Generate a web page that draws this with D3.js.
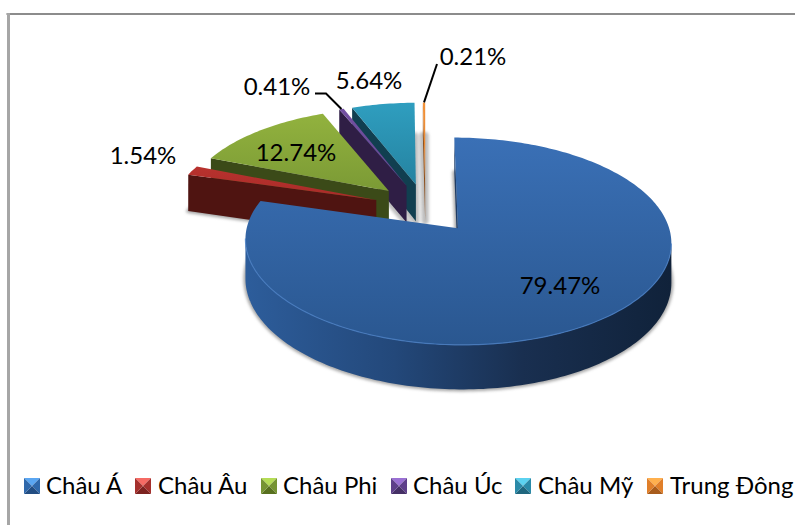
<!DOCTYPE html>
<html><head><meta charset="utf-8">
<script src="https://cdnjs.cloudflare.com/ajax/libs/d3/7.8.5/d3.min.js"></script>
<style>html,body{margin:0;padding:0;background:#fff}svg{display:block}text{font-family:Lato,"Open Sans",sans-serif;fill:#000}</style>
</head><body><svg id="c" width="795" height="525"></svg>
<script>
const categories = ["Châu Á","Châu Âu","Châu Phi","Châu Úc","Châu Mỹ","Trung Đông"];
const values = [79.47,1.54,12.74,0.41,5.64,0.21];
const valueLabels = ["79.47%","1.54%","12.74%","0.41%","5.64%","0.21%"];
const topLight = ["#3a70b6","#b8322e","#92b23e","#7350a2","#2f9ebf","#f39238"];
const topDark  = ["#2a5790","#a82b28","#7b9a35","#654690","#2583a1","#e07f2a"];
const wallCol  = ["#2c5b98","#4f1411","#3b4a18","#2f1e45","#113f50","#8a4c18"];
const swatchTop = ["#5aa6f2","#f56a64","#b5dc56","#9a70d4","#5cd2f0","#ffb04e"];
const swatchMid = ["#2f68ab","#a5302d","#769432","#5e3f8a","#2a8aa8","#e07f2a"];
const swatchBot = ["#224d82","#7c2220","#58701f","#453066","#1f667e","#a85c1c"];
const labelX = [560,143,296,277,369,473];
const labelY = [294,164,161,95,89,65];
const legendSwatchX = [24,135,261,391,515,647];
const legendTextX = [46,158,283,413,538,670];

const X0=425.5,Y0=208,R=206,K=97,P=0.122,E=0.255,D=38;
const svg=d3.select("#c"),defs=svg.append("defs");
const f=defs.append("filter").attr("id","blur").attr("x","-20%").attr("y","-20%").attr("width","140%").attr("height","140%");
f.append("feGaussianBlur").attr("stdDeviation",1.6);

const arcs=d3.pie().sort(null).value(d=>d)(values);
function proj(u,v,z){const s=1/(1-P*v);return [X0+R*u*s,Y0+K*v*s+z*s];}
function outline(a,z){
  const mid=(a.startAngle+a.endAngle)/2, su=E*Math.sin(mid), sv=-E*Math.cos(mid);
  const n=Math.max(2,Math.ceil((a.endAngle-a.startAngle)/0.02));
  const pts=[[su,sv]];
  d3.range(n+1).forEach(i=>{const t=a.startAngle+(a.endAngle-a.startAngle)*i/n;pts.push([su+Math.sin(t),sv-Math.cos(t)]);});
  return pts.map(p=>proj(p[0],p[1],z));
}
const line=d3.line();
topLight.forEach((c,i)=>{
  const g=defs.append("linearGradient").attr("id","t"+i).attr("x1",0).attr("y1",0).attr("x2",0).attr("y2",1);
  g.append("stop").attr("offset",0).attr("stop-color",c);
  g.append("stop").attr("offset",1).attr("stop-color",topDark[i]);
});
const wg=defs.append("linearGradient").attr("id","w0").attr("x1",0).attr("y1",0).attr("x2",1).attr("y2",0);
[[0,"#2d5d9b"],[0.35,"#23487a"],[0.65,"#192f50"],[1,"#10223a"]].forEach(s=>wg.append("stop").attr("offset",s[0]).attr("stop-color",s[1]));

const shadow=svg.append("g").attr("filter","url(#blur)");
arcs.forEach(a=>{
  const i=a.index;
  shadow.append("path").attr("d",line(outline(a,D))+"Z").attr("fill","#9a9a9a")
    .attr("stroke","#a8a8a8").attr("stroke-width",i>=3?7:4).attr("stroke-linejoin","round").attr("opacity",i>=3?0.75:1);
});
const order=[5,4,3,2,1,0];
order.forEach(i=>{
  const a=arcs[i],top=outline(a,0),bot=outline(a,D),N=top.length;
  let d="",rim=[];
  for(let k=0;k<N;k++){
    const j=(k+1)%N;
    if(top[j][0]<top[k][0]-1e-6){
      d+=line([top[k],top[j],bot[j],bot[k]])+"Z";
      if(k>0&&j>0)rim.push(top[k],top[j]);
    }
  }
  svg.append("path").attr("d",d).attr("fill",i===0?"url(#w0)":wallCol[i]);
  svg.append("path").attr("d",line(top)+"Z").attr("fill","url(#t"+i+")");
  if(i===0&&rim.length)svg.append("path").attr("d",line(rim)).attr("fill","none").attr("stroke","#4a80c6").attr("stroke-width",1.2).attr("opacity",.8);
});
svg.append("rect").attr("x",6.5).attr("y",13).attr("width",788.5).attr("height",2).attr("fill","#8c8c8c");
svg.append("rect").attr("x",7).attr("y",13).attr("width",3).attr("height",512).attr("fill","#a6a6a6");
const purpleOuter=outline(arcs[3],0)[2], orangeOuter=outline(arcs[5],0)[2];
svg.append("path").attr("d",line([[315,93.5],[326,93.5],purpleOuter])).attr("fill","none").attr("stroke","#000").attr("stroke-width",2);
svg.append("path").attr("d",line([[437,64],orangeOuter])).attr("fill","none").attr("stroke","#000").attr("stroke-width",2);
svg.selectAll("text.v").data(valueLabels).join("text").attr("class","v")
  .attr("x",(d,i)=>labelX[i]).attr("y",(d,i)=>labelY[i]).attr("text-anchor","middle")
  .attr("font-size",24).text(d=>d);
const S=16,LY=478;
categories.forEach((c,i)=>{
  const x=legendSwatchX[i],g=svg.append("g");
  const cn=[x+S/2,LY+S/2],tl=[x,LY],tr=[x+S,LY],br=[x+S,LY+S],bl=[x,LY+S];
  [[tl,tr,swatchTop[i]],[tr,br,swatchMid[i]],[br,bl,swatchBot[i]],[bl,tl,swatchMid[i]]].forEach(q=>
    g.append("path").attr("d",line([q[0],q[1],cn])+"Z").attr("fill",q[2]));
  svg.append("text").attr("x",legendTextX[i]).attr("y",494).attr("font-size",24).text(c);
});
</script></body></html>
